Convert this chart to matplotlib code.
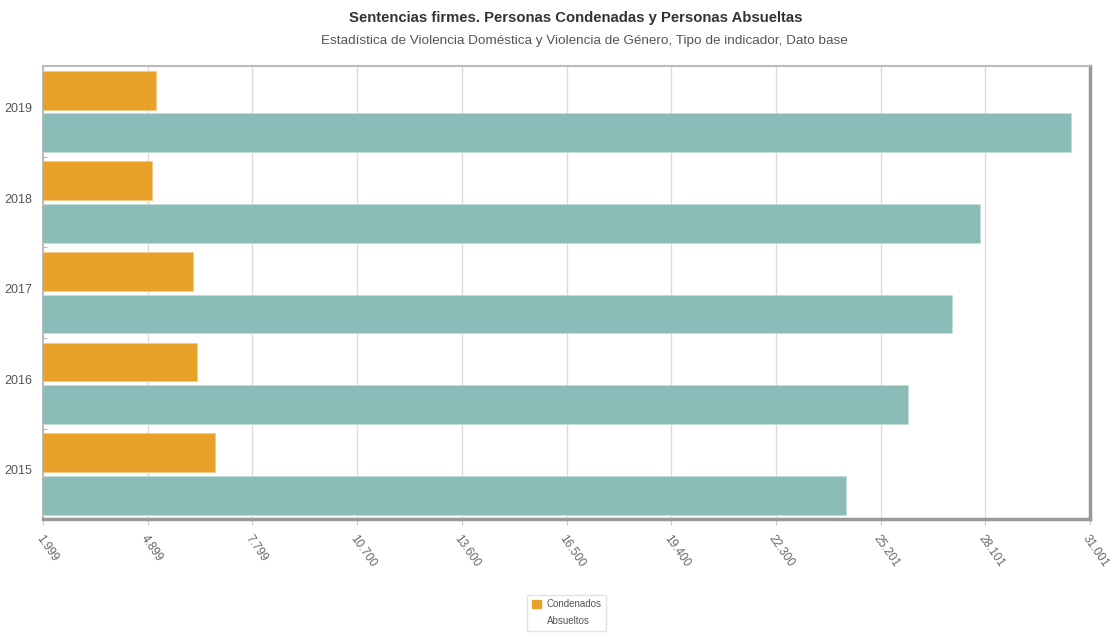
import matplotlib.pyplot as plt
from matplotlib.patches import Patch
from matplotlib.ticker import FixedLocator, FuncFormatter
from matplotlib.transforms import ScaledTranslation
import numpy as np

plt.rcParams['font.family'] = ['Liberation Sans', 'DejaVu Sans']

years = ['2015', '2016', '2017', '2018', '2019']
condenados = [6764, 6265, 6154, 5018, 5129]
absueltos = [24251, 25952, 27187, 27963, 30484]
x_ticks = [1999, 4899, 7799, 10700, 13600, 16500, 19400, 22300, 25201, 28101, 31001]

orange = '#e9a229'
teal = '#8abdb7'

fig = plt.figure(figsize=(11.18, 6.37), dpi=100)
ax = fig.add_axes([0.0385, 0.185, 0.9365, 0.711])

pos = np.arange(len(years))
h = 0.43
off = 0.235
ax.barh(pos + off, condenados, height=h, color=orange, edgecolor='#f3c985', linewidth=0.6, zorder=3)
ax.barh(pos - off, absueltos, height=h, color=teal, edgecolor='#c4ded9', linewidth=0.6, zorder=3)

ax.set_xlim(x_ticks[0], x_ticks[-1])
ax.set_ylim(-0.5, len(years) - 0.5)

ax.xaxis.set_major_locator(FixedLocator(x_ticks))
ax.xaxis.set_major_formatter(FuncFormatter(lambda v, p: f'{int(round(v)):,}'.replace(',', '.')))
ax.grid(axis='x', color='#dcdcdc', linewidth=1, zorder=0)
ax.tick_params(axis='x', length=4, color='#cccccc', labelsize=8.5, labelcolor='#666666', pad=6)
for lab in ax.get_xticklabels():
    lab.set_rotation(-55)
    lab.set_ha('left')
    lab.set_va('top')
    lab.set_rotation_mode('anchor')

ax.set_yticks(pos)
ax.set_yticklabels(years)
ax.tick_params(axis='y', length=0, labelsize=9, labelcolor='#555555', pad=8)
# year labels sit a little above the middle of each group
shift = ScaledTranslation(0, 4 / 100, fig.dpi_scale_trans)
for lab in ax.get_yticklabels():
    lab.set_transform(lab.get_transform() + shift)
ax.yaxis.set_minor_locator(FixedLocator(np.arange(-0.5, len(years), 1.0)))
ax.tick_params(axis='y', which='minor', direction='in', length=3, color='#aaaaaa')

for side in ['left', 'top']:
    ax.spines[side].set_color('#bbbbbb')
    ax.spines[side].set_linewidth(1.5)
for side in ['right', 'bottom']:
    ax.spines[side].set_color('#999999')
    ax.spines[side].set_linewidth(2.5)

fig.text(0.515, 0.972, 'Sentencias firmes. Personas Condenadas y Personas Absueltas',
         ha='center', va='center', fontsize=10.7, fontweight='bold', color='#333333')
fig.text(0.523, 0.935, 'Estadística de Violencia Doméstica y Violencia de Género, Tipo de indicador, Dato base',
         ha='center', va='center', fontsize=9.7, color='#555555')

handles = [Patch(facecolor=orange, edgecolor=orange), Patch(facecolor='none', edgecolor='none')]
fig.legend(handles, ['Condenados', 'Absueltos'], loc='center', bbox_to_anchor=(0.507, 0.038),
           fontsize=7, frameon=True, edgecolor='#dddddd', fancybox=False,
           handlelength=0.9, handleheight=0.9, handletextpad=0.6, borderpad=0.5,
           labelspacing=0.7, labelcolor='#555555')

fig.savefig('out.png', dpi=100, facecolor='white')
